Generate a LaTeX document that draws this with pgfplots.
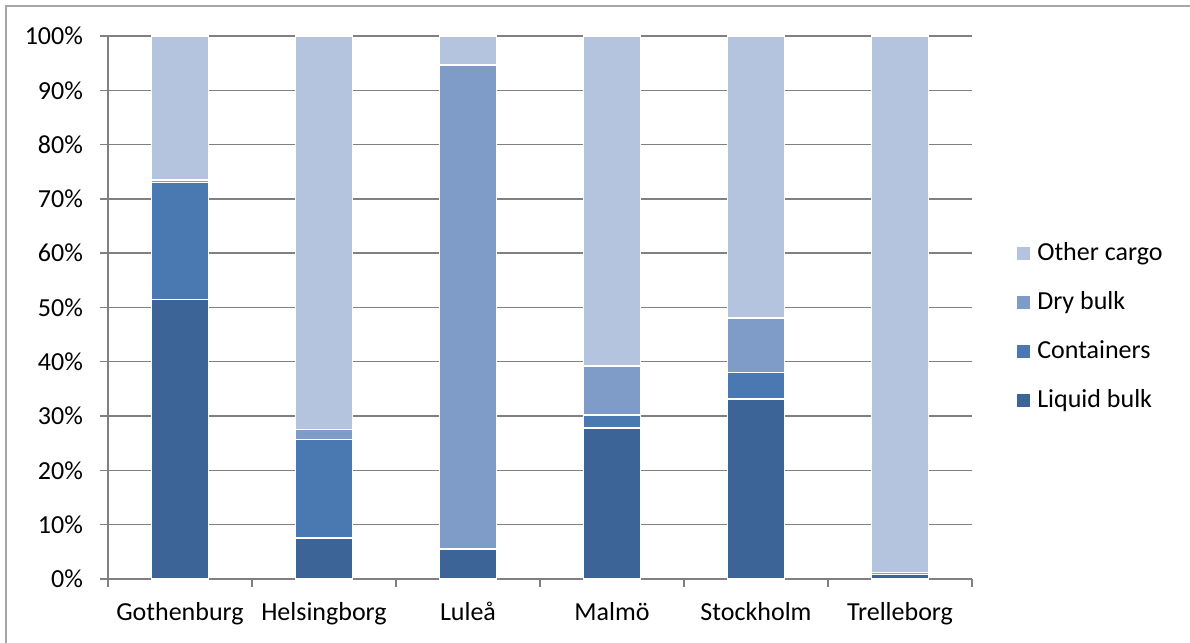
\documentclass[border=0pt]{standalone}
\usepackage{pgfplots}
\pgfplotsset{compat=1.18}
\usepackage{fontspec}
\setmainfont{Carlito}

\definecolor{liquid}{RGB}{60,100,150}
\definecolor{cont}{RGB}{74,120,176}
\definecolor{dry}{RGB}{127,156,200}
\definecolor{other}{RGB}{180,196,222}
\definecolor{gridgray}{RGB}{128,128,128}

\begin{document}
\fontsize{13}{15}\selectfont
\begin{tikzpicture}
\useasboundingbox (-54pt,-32pt) rectangle (541pt,289.5pt);
\draw[gridgray!70, line width=0.6pt] (-51pt,-40pt) -- (-51pt,286.5pt) -- (560pt,286.5pt);
\begin{axis}[
    at={(0pt,0pt)}, anchor=south west,
    scale only axis,
    width=432pt, height=271.5pt,
    ybar stacked,
    bar width=0.396,
    xmin=-0.5, xmax=5.5,
    ymin=0, ymax=100,
    xtick={-0.5,0.5,...,5.5},
    xticklabels={},
    extra x ticks={0,1,2,3,4,5},
    extra x tick labels={Gothenburg,Helsingborg,Luleå,Malmö,Stockholm,Trelleborg},
    extra x tick style={major tick length=0pt, grid=none,
        xticklabel style={yshift=-7pt}},
    ytick={0,10,...,100},
    yticklabel={\pgfmathprintnumber{\tick}\%},
    /pgf/number format/assume math mode=true,
    ymajorgrids,
    grid style={gridgray, line width=0.7pt},
    axis x line*=bottom,
    axis y line*=left,
    axis line style={gridgray, line width=0.7pt, -},
    tick style={gridgray, line width=0.7pt},
    tick align=outside,
    major tick length=4pt,
    yticklabel style={xshift=-4pt},
    clip=false,
    reverse legend,
    legend cell align=left,
    legend style={draw=none, fill=none, at={(1.052,0.464)}, anchor=west,
        row sep=9.5pt, inner sep=0pt,
        nodes={inner xsep=3.5pt}},
    legend image code/.code={\fill[#1, draw=none] (0pt,-3.25pt) rectangle (6.5pt,3.25pt);},
    every axis plot/.append style={draw=white, line width=0.8pt},
]
\addplot[fill=liquid] coordinates {(0,51.5) (1,7.5) (2,5.5) (3,27.8) (4,33.2) (5,0.8)};
\addplot[fill=cont] coordinates {(0,21.5) (1,18.2) (2,0.1) (3,2.4) (4,4.8) (5,0.0)};
\addplot[fill=dry] coordinates {(0,0.5) (1,1.8) (2,89.1) (3,9.0) (4,10.1) (5,0.4)};
\addplot[fill=other] coordinates {(0,26.5) (1,72.5) (2,5.3) (3,60.8) (4,51.9) (5,98.8)};
\legend{Liquid bulk,Containers,Dry bulk,Other cargo}
\end{axis}
\end{tikzpicture}
\end{document}
